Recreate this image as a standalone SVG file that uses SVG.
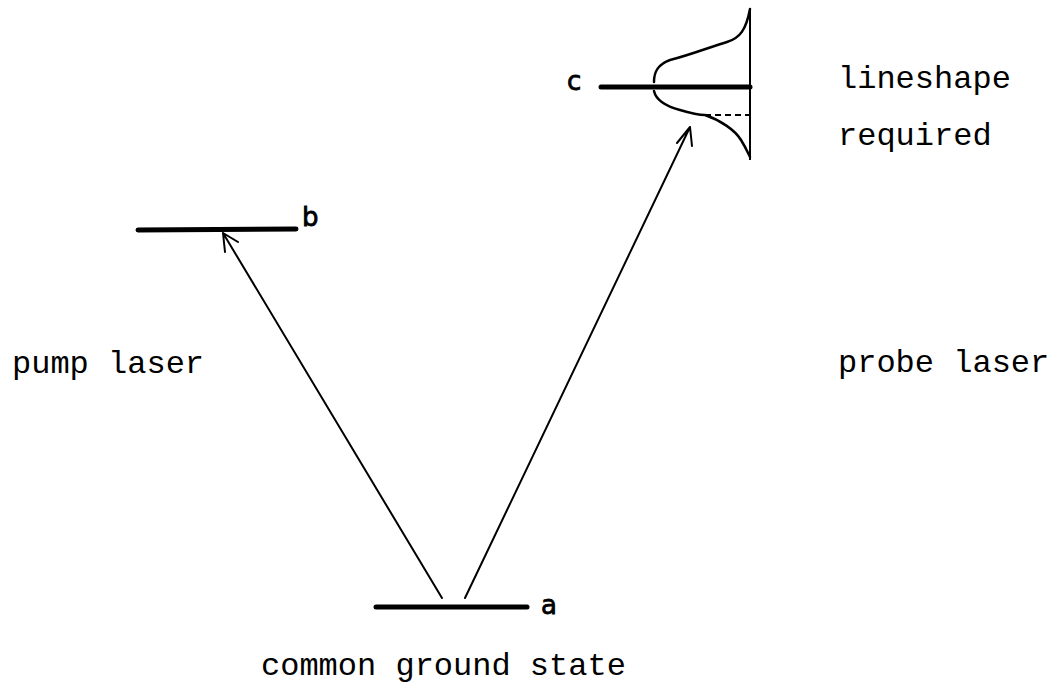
<svg xmlns="http://www.w3.org/2000/svg" width="1061" height="686" viewBox="0 0 1061 686">
<style>
.lvl{stroke:#000;stroke-width:5;stroke-linecap:round;fill:none}
.arr{stroke:#000;stroke-width:2;fill:none;stroke-linecap:round}
.curve{stroke:#000;stroke-width:2.5;fill:none;stroke-linecap:round}
.t{font-family:"Liberation Mono","Courier New",monospace;font-size:32px;fill:#000}
.h{font-family:"DejaVu Sans","Liberation Sans",sans-serif;font-size:26px;fill:#000;stroke:#000;stroke-width:0.8}
</style>
<rect width="1061" height="686" fill="#fff"/>
<g id="level-a">
<line class="lvl" x1="376" y1="607" x2="527" y2="607"/>
<text class="h" x="541" y="614">a</text>
</g>
<g id="level-b">
<line class="lvl" x1="138" y1="230" x2="296" y2="229"/>
<text class="h" x="302" y="226">b</text>
</g>
<g id="level-c">
<line class="lvl" x1="601" y1="87" x2="750" y2="87"/>
<text class="h" x="567" y="90">c</text>
<line x1="750" y1="8" x2="750" y2="160" stroke="#000" stroke-width="2"/>
<path class="curve" d="M750,9 C746,30 740,38 727,42 C710,47 690,55 670,60 C656,65 654,74 654,82"/>
<path class="curve" d="M654,91 C656,100 665,106 680,110 C690,113 700,115 705,115 C720,120 735,130 741,140 C746,148 748,153 750,157"/>
<line x1="705" y1="115" x2="750" y2="115" stroke="#000" stroke-width="2" stroke-dasharray="6,4"/>
</g>
<g id="labels">
<text class="t" x="838" y="88">lineshape</text>
<text class="t" x="838" y="145">required</text>
<text class="t" x="12" y="373">pump laser</text>
<text class="t" x="838" y="372">probe laser</text>
<text class="t" x="261" y="675">common ground state</text>
</g>
<g id="connectors">
<path class="arr" d="M442,598 L223,233 M223,233 L225,252 M223,233 L238,242"/>
<path class="arr" d="M465,598 L690,127 M690,127 L677,143 M690,127 L692,146"/>
</g>
</svg>
